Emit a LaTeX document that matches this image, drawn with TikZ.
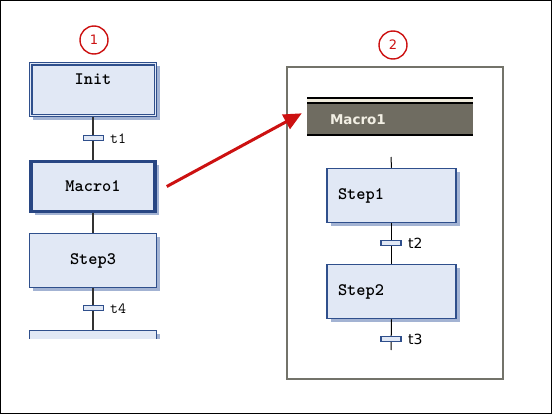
\documentclass[tikz,border=0pt]{standalone}
\usepackage{fontspec}
\setmainfont{DejaVu Sans}
\setsansfont{DejaVu Sans}
\usepackage{tikz}
\usetikzlibrary{positioning, shadows, arrows.meta}

\definecolor{stepfill}{HTML}{E1E8F5}
\definecolor{stepdraw}{HTML}{2F4F8C}
\definecolor{stepshadow}{HTML}{A3B3D3}
\definecolor{macrodraw}{HTML}{284683}
\definecolor{headgray}{HTML}{6F6C61}
\definecolor{headcream}{HTML}{EEEADB}
\definecolor{headtext}{HTML}{F2EFE4}
\definecolor{framegray}{HTML}{73736A}
\definecolor{badgered}{HTML}{CC1111}

\begin{document}
\begin{tikzpicture}[x=1pt, y=-1pt,
  stepbox/.style={draw=stepdraw, fill=stepfill, line width=1.5pt,
    minimum width=127pt, minimum height=54pt, inner sep=0pt,
    copy shadow={shadow xshift=3.5pt, shadow yshift=-3.5pt, draw=none, fill=stepshadow},
    font=\ttfamily\bfseries\fontsize{17.5}{17.5}\selectfont},
  steptext/.style={font=\ttfamily\bfseries\fontsize{17.5}{17.5}\selectfont, inner sep=0pt},
  trans/.style={draw=stepdraw, fill=stepfill, line width=1.1pt,
    minimum width=20pt, minimum height=5.5pt, inner sep=0pt},
  translabel/.style={font=\ttfamily\fontsize{15.5}{15.5}\selectfont, anchor=west, inner sep=0pt},
  link/.style={draw=black!80, line width=1.2pt},
  badge/.style={circle, draw=badgered, fill=white, line width=1.4pt, minimum size=28pt,
    inner sep=0pt, text=badgered, font=\sffamily\fontsize{13}{13}\selectfont}]

  % Page frame
  \useasboundingbox (0,0) rectangle (552,415);
  \draw[black, line width=1.2pt] (0.8,0.8) rectangle (551.2,413.6);

  % Left chart: boxes
  \node[stepbox, line width=1.1pt] (init) at (93,89.5) {};
  \draw[stepdraw, line width=1.1pt] ([xshift=3pt, yshift=-3pt]init.north west)
    rectangle ([xshift=-3pt, yshift=3pt]init.south east);
  \node[steptext] (initlabel) at ([yshift=-17pt]init.north) {Init};
  \node[stepbox, draw=macrodraw, line width=3.5pt, minimum width=124pt, minimum height=50pt]
    (macro1) at (93,186.5) {Macro1};
  \node[stepbox] (step3) at (93,260.5) {Step3};
  \begin{scope}
    \clip (0,0) rectangle (552,338);
    \node[stepbox] (step4) at (93,357.5) {};
  \end{scope}

  % Left chart: links and transitions
  \draw[link] (init.south) -- (macro1.north);
  \draw[link] (macro1.south) -- (step3.north);
  \draw[link] (step3.south) -- (step4.north);
  \node[trans] (t1) at (93.5,138) {};
  \node[translabel] (t1label) at (110,138.5) {t1};
  \node[trans] (t4) at (93.5,308) {};
  \node[translabel] (t4label) at (110,308.5) {t4};

  % Right panel frame
  \draw[framegray, line width=2.5pt] (287,67) rectangle (503,379);

  % Macro header
  \fill[black] (307,96.8) rectangle (473,98.6);
  \fill[headcream] (307,98.6) rectangle (473,102);
  \fill[black] (307,102) rectangle (473,104.5);
  \node[fill=headgray, minimum width=166pt, minimum height=30pt, inner xsep=23pt,
    inner ysep=0pt, text width=120pt, align=left, text=headtext,
    font=\sffamily\bfseries\fontsize{13.5}{13.5}\selectfont] (macrohead) at (390,119.3) {Macro1};
  \fill[black] (307,134.2) rectangle (473,135.6);

  % Right chart: boxes
  \node[stepbox, text width=107pt, inner xsep=11pt, align=left, minimum width=129pt]
    (step1) at (391.5,195.5) {Step1};
  \node[stepbox, text width=107pt, inner xsep=11pt, align=left, minimum width=129pt]
    (step2) at (391.5,291.5) {Step2};

  % Right chart: links and transitions
  \coordinate (macroout) at (391,157);
  \coordinate (chainend) at (391,350);
  \draw[black, line width=1pt] (macroout) -- (step1.north);
  \draw[black, line width=1pt] (step1.south) -- (step2.north);
  \draw[black, line width=1pt] (step2.south) -- (chainend);
  \node[trans] (t2) at (391,243) {};
  \node[translabel, font=\sffamily\fontsize{14}{14}\selectfont] (t2label) at (408,243) {t2};
  \node[trans] (t3) at (391,339) {};
  \node[translabel, font=\sffamily\fontsize{14}{14}\selectfont] (t3label) at (408,339) {t3};

  % Numbered badges
  \node[badge] (badge1) at (94,40) {1};
  \node[badge] (badge2) at (393,45) {2};

  % Red pointer
  \draw[badgered, line width=3pt, -{Triangle[length=18pt, width=16pt]}]
    ([xshift=10pt]macro1.east) -- ([xshift=-5pt, yshift=6pt]macrohead.west);
\end{tikzpicture}
\end{document}
